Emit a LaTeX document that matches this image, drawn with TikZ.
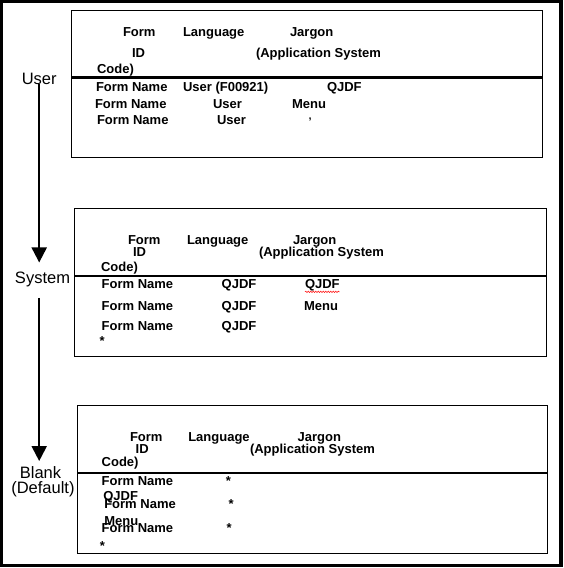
\documentclass[tikz,border=0pt]{standalone}
\usepackage{fontspec}
\setmainfont{Liberation Sans}
\usetikzlibrary{arrows.meta,decorations.pathmorphing}
\newcommand\tabfnt{\fontsize{13}{15}\selectfont\bfseries}
\newcommand\lblfnt{\fontsize{16.5}{18}\selectfont}
\tikzset{
  hdr/.style={anchor=base west, inner sep=0pt, outer sep=0pt, font=\tabfnt},
  lbl/.style={anchor=base, inner sep=0pt, outer sep=0pt, font=\lblfnt},
  panel/.style={draw, line width=1pt},
  rowrule/.style={line width=2.7pt},
  flow/.style={line width=2pt, -{Triangle[width=15pt,length=15pt]}},
  outerframe/.style={line width=3.5pt},
  squig/.style={red, line width=0.5pt, decorate, decoration={snake, amplitude=0.7pt, segment length=2.5pt}}
}
\begin{document}
\begin{tikzpicture}[x=1pt,y=-1pt]
\useasboundingbox (0,0) rectangle (563,568);
\fill[white] (0,0) rectangle (563,568);
\draw[outerframe] (1.5,1.3) rectangle (561,565.5);

% panels
\draw[panel] (71,10) rectangle (542,157);
\draw[rowrule] (71,77.3) -- (542,77.3);
\draw[panel] (74,208) rectangle (546.5,356);
\draw[rowrule] (74,276) -- (546.5,276);
\draw[panel] (77,405.5) rectangle (547,553);
\draw[rowrule] (77,473) -- (547,473);

% panel 1
\node[hdr] (p1form) at (123,36) {Form};
\node[hdr] (p1lang) at (183,36) {Language};
\node[hdr] (p1jarg) at (290,36) {Jargon};
\node[hdr] (p1id) at (132,57) {ID};
\node[hdr] (p1app) at (256,57) {(Application System};
\node[hdr] (p1code) at (97,73) {Code)};
\node[hdr] (p1r1a) at (96,91) {Form Name};
\node[hdr] (p1r1b) at (183,91) {User (F00921)};
\node[hdr] (p1r1c) at (327,91) {QJDF};
\node[hdr] (p1r2a) at (95,108) {Form Name};
\node[hdr] (p1r2b) at (213,108) {User};
\node[hdr] (p1r2c) at (292,108) {Menu};
\node[hdr] (p1r3a) at (97,124) {Form Name};
\node[hdr] (p1r3b) at (217,124) {User};
\node[anchor=base west, inner sep=0pt, font=\fontsize{11}{12}\selectfont\bfseries] (p1r3c) at (308.5,125) {’};

% panel 2
\node[hdr] (p2form) at (128,244.3) {Form};
\node[hdr] (p2lang) at (187,244.3) {Language};
\node[hdr] (p2jarg) at (293,244.3) {Jargon};
\node[hdr] (p2id) at (133,256.7) {ID};
\node[hdr] (p2app) at (259,256.7) {(Application System};
\node[hdr] (p2code) at (101,271.7) {Code)};
\node[hdr] (p2r1a) at (101.7,288.3) {Form Name};
\node[hdr] (p2r1b) at (221.7,288.3) {QJDF};
\node[hdr] (p2r1c) at (305,288.3) {QJDF};
\node[hdr] (p2r2a) at (101.7,310) {Form Name};
\node[hdr] (p2r2b) at (221.7,310) {QJDF};
\node[hdr] (p2r2c) at (304,310) {Menu};
\node[hdr] (p2r3a) at (101.7,330) {Form Name};
\node[hdr] (p2r3b) at (221.7,330) {QJDF};
\node[hdr] (p2r4a) at (99.5,345.5) {*};
\draw[squig] ([yshift=-3.5pt]p2r1c.base west) -- ([yshift=-3.5pt]p2r1c.base east);

% panel 3
\node[hdr] (p3form) at (130,441.7) {Form};
\node[hdr] (p3lang) at (188.3,441.7) {Language};
\node[hdr] (p3jarg) at (297.7,441.7) {Jargon};
\node[hdr] (p3id) at (135.7,453.3) {ID};
\node[hdr] (p3app) at (250,453.3) {(Application System};
\node[hdr] (p3code) at (101.7,466.7) {Code)};
\node[hdr] (p3r1a) at (101.7,485) {Form Name};
\node[hdr] (p3r1b) at (225.8,485.8) {*};
\node[hdr] (p3r1c) at (103.3,500) {QJDF};
\node[hdr] (p3r2a) at (104.3,508.3) {Form Name};
\node[hdr] (p3r2b) at (228.5,508.5) {*};
\node[hdr] (p3r2c) at (104.3,525) {Menu};
\node[hdr] (p3r3a) at (101.7,532.7) {Form Name};
\node[hdr] (p3r3b) at (226.5,532.5) {*};
\node[hdr] (p3r4a) at (99.8,550.2) {*};

% levels
\node[lbl] (user) at (39.2,84) {User};
\node[lbl] (sys) at (42.5,283.3) {System};
\node[lbl] (blank) at (40.5,478) {Blank};
\node[lbl] (dflt) at (42.9,493) {(Default)};

\draw[flow, shorten >=9.3pt] (user.south) -- (user.south |- sys.north);
\draw[flow, shorten <=11.2pt, shorten >=5pt] (user.south |- sys.south) -- (user.south |- blank.north);
\end{tikzpicture}
\end{document}
